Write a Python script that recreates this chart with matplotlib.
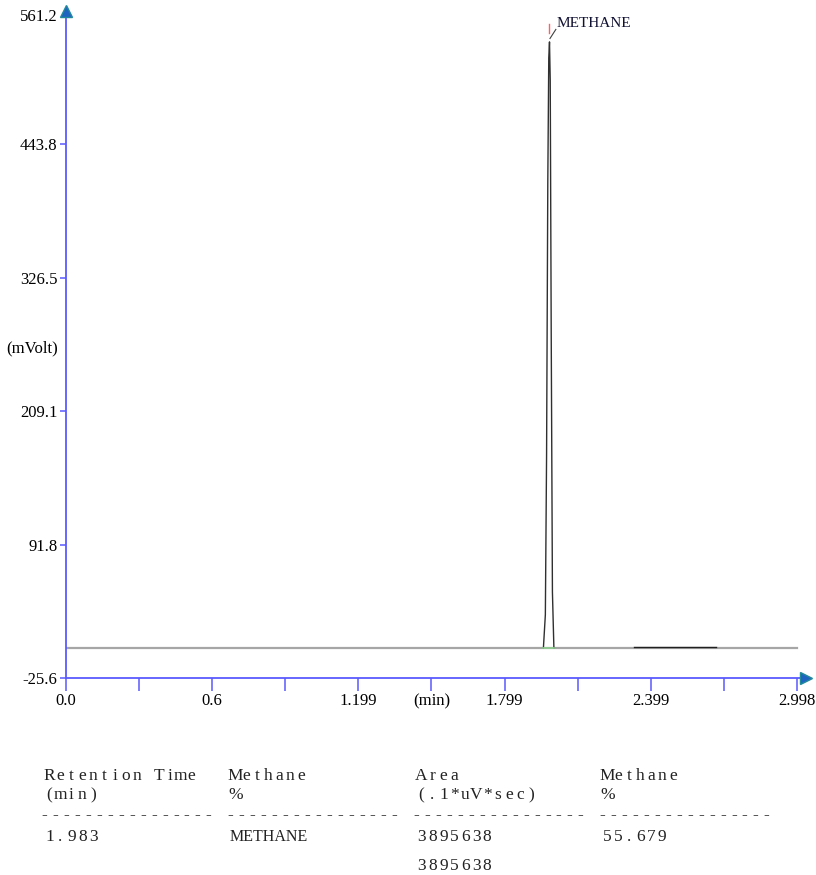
import numpy as np
import matplotlib
matplotlib.use("Agg")
import matplotlib.pyplot as plt

plt.rcParams['font.family'] = ['Liberation Serif', 'DejaVu Serif']

# detector trace (min, mV)
base_time = [0.0, 2.998]
base_mv = [0.8, 0.8]
peak_time = [1.958, 1.966, 1.971, 1.976, 1.980, 1.983, 1.986, 1.990, 1.995, 2.001]
peak_mv = [0.8, 30, 170, 410, 520, 534, 500, 280, 50, 0.8]
drift_time = [2.33, 2.666]
drift_mv = [1.4, 1.4]
peak_name = "METHANE"
peak_rt = 1.983

x_ticks = [0.0, 0.2998, 0.6, 0.8994, 1.199, 1.499, 1.799, 2.0986, 2.399, 2.6982, 2.998]
x_labels = ["0.0", "", "0.6", "", "1.199", "(min)", "1.799", "", "2.399", "", "2.998"]
y_ticks = [-25.6, 91.8, 209.1, 326.5, 443.8]
y_top = 561.2

# peak report
headers1 = ["Retention Time", "Methane", "Area", "Methane"]
headers2 = ["(min)", "%", "(.1*uV*sec)", "%"]
row = ["1.983", "METHANE", "3895638", "55.679"]
area_total = "3895638"

W, H = 816, 875
fig = plt.figure(figsize=(W / 100, H / 100), dpi=100)
ax = fig.add_axes([66 / W, 1 - 678 / H, 740 / W, 667 / H])

axis_col = "#5a5aff"
ax.plot(base_time, base_mv, color="#a6a6a6", lw=1.6, zorder=2)
ax.plot(drift_time, drift_mv, color="#202020", lw=1.0, zorder=3)
ax.plot(peak_time, peak_mv, color="#303030", lw=1.0, zorder=4)
ax.plot([peak_time[0], peak_time[-1]], [peak_mv[0], peak_mv[-1]], color="#8fd08f", lw=1.2, zorder=5)

# peak marker and name
top = max(peak_mv)
ax.plot([peak_rt - 0.002, peak_rt - 0.002], [top + 8, top + 16], color="#ff6060", lw=1.0)
ax.plot([peak_rt + 0.002, peak_rt + 0.026], [top + 3, top + 11], color="#404040", lw=0.8)
ax.text(peak_rt + 0.028, top + 16, peak_name, fontsize=11, ha="left", va="center", color="#111133")

ax.set_xlim(0, 3.035)
ax.set_ylim(-25.6, y_top)
for s in ["top", "right"]:
    ax.spines[s].set_visible(False)
for s in ["left", "bottom"]:
    ax.spines[s].set_color(axis_col)
    ax.spines[s].set_linewidth(1.3)

ax.set_xticks(x_ticks)
ax.set_xticklabels(x_labels, fontsize=12)
ax.set_yticks(y_ticks)
ax.set_yticklabels([f"{v:.1f}" for v in y_ticks], fontsize=12)
ax.tick_params(axis="x", direction="out", length=9, width=1.1, color=axis_col, pad=2)
ax.tick_params(axis="y", direction="out", length=4, width=1.1, color=axis_col, pad=2)
ax.annotate(f"{y_top:.1f}", xy=(0, y_top), xytext=(-6, -4), textcoords="offset points",
            ha="right", va="center", fontsize=12, annotation_clip=False)
ax.text(-0.032, 264, "(mVolt)", fontsize=12, ha="right", va="center", transform=ax.transData)

# axis arrowheads
ax.plot([0], [y_top], marker="^", ms=8, color="#1f63c0", mec="#1f8a9a", clip_on=False, zorder=6)
ax.plot([3.035], [-25.6], marker=">", ms=8, color="#1f63c0", mec="#1f8a9a", clip_on=False, zorder=6)


def mono(text, x0, y, pitch=10.94, size=12.5):
    # fixed-pitch layout with a proportional serif face
    for i, ch in enumerate(text):
        if ch != " ":
            fig.text((x0 + (i + 0.5) * pitch) / W, 1 - y / H, ch, fontsize=size,
                     ha="center", va="center", color="#222222")


cols = [44, 230, 416, 602]
for x0, h1, h2, v in zip(cols, headers1, headers2, row):
    mono(h1, x0, 776)
    mono(h2, x0, 795)
    mono("-" * 16, x0 - 5, 815)
    if v.isalpha():
        # component names are printed in the plain face
        fig.text(x0 / W, 1 - 837 / H, v, fontsize=11.5, ha="left", va="center", color="#222222")
    else:
        mono(v, x0, 837)
mono(area_total, cols[2], 866)

fig.savefig("out.png", dpi=100)
